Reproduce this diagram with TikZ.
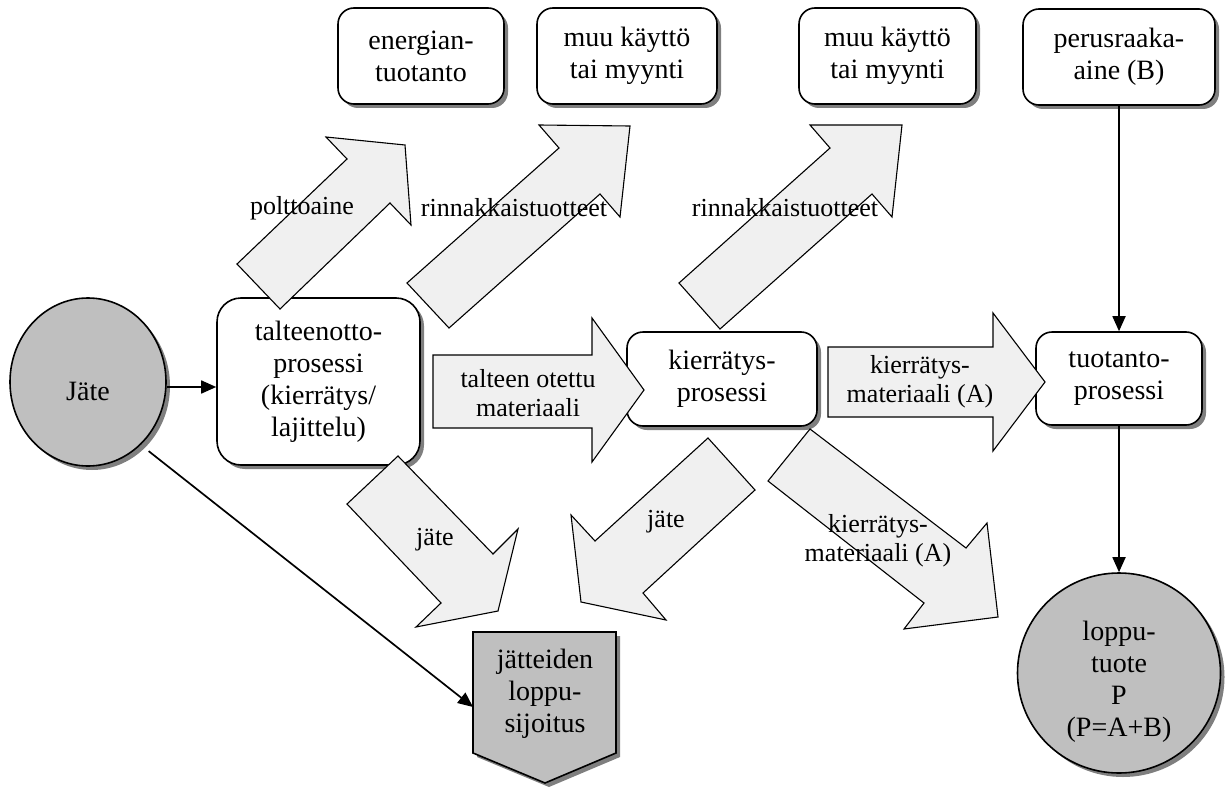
\documentclass[tikz,border=0pt]{standalone}
\usepackage{fontspec}
\setmainfont{Liberation Serif}
\usetikzlibrary{shapes.geometric,shadows,arrows.meta}
\begin{document}
\begin{tikzpicture}[x=1pt,y=-1pt,
  boxfont/.style={font=\fontsize{28}{32}\selectfont},
  lblfont/.style={font=\fontsize{26}{29}\selectfont},
  shad/.style={drop shadow={shadow xshift=4pt,shadow yshift=-4pt,fill=black,opacity=.5}},
  box/.style={draw,line width=1.6pt,rounded corners=16pt,fill=white,align=center,inner sep=0pt,boxfont,shad},
  disc/.style={ellipse,draw,line width=1.6pt,fill=black!25,align=center,inner sep=0pt,boxfont,shad},
  bigarrow/.style={draw,line width=1.1pt,fill=black!6,line join=miter},
  lbl/.style={align=center,inner sep=0pt,lblfont},
  conn/.style={line width=1.7pt,-{Triangle[length=15pt,width=13pt]}}
]
\useasboundingbox[fill=white] (0,0) rectangle (1230,789);

% boxes
\node[box,minimum width=166pt,minimum height=96pt] (energ) at (421,56) {energian-\\tuotanto};
\node[box,minimum width=180pt,minimum height=96pt] (muu1) at (627,56) {muu käyttö\\tai myynti};
\node[box,minimum width=177pt,minimum height=96pt] (muu2) at (887.5,56) {muu käyttö\\tai myynti};
\node[box,minimum width=192pt,minimum height=96pt] (perus) at (1119,57) {perusraaka-\\aine (B)};
\node[box,rounded corners=24pt,minimum width=203pt,minimum height=167pt] (talt) at (318.5,381.5) {talteenotto-\\prosessi\\(kierrätys/\\lajittelu)};
\node[box,minimum width=190pt,minimum height=94pt] (kier) at (722,379) {kierrätys-\\prosessi};
\node[box,minimum width=166pt,minimum height=93pt] (tuot) at (1119,378.5) {tuotanto-\\prosessi};
\node[disc,minimum width=156pt,minimum height=168pt] (jate) at (88,382) {};
\node[lbl,boxfont] (jatetext) at ([yshift=-9pt]jate.center) {Jäte};
\node[disc,minimum width=203pt,minimum height=200pt] (lop) at (1119,673) {};
\node[lbl,boxfont] (loptext) at ([yshift=-9pt]lop.center) {loppu-\\tuote\\P\\(P=A+B)};

% final disposal (pentagon)
\path[draw,line width=1.6pt,fill=black!25,shad] (473,632) -- (616,632) -- (616,753) -- (545,783) -- (473,753) -- cycle;
\node[lbl,boxfont] (sink) at (545,694) {jätteiden\\loppu-\\sijoitus};
\coordinate (sinkin) at (473,707);

% block arrows
\path[bigarrow] (237,264) -- (347,159) -- (326,137) -- (405,145) -- (411,225) -- (390,203) -- (280,309) -- cycle;
\path[bigarrow] (407,283) -- (559,148) -- (539,125) -- (630,126) -- (620,217) -- (600,194) -- (449,328) -- cycle;
\path[bigarrow] (679,283) -- (830,148) -- (810,125) -- (902,125) -- (892,217) -- (872,194) -- (720,329) -- cycle;
\path[bigarrow] (433,355) -- (592,355) -- (592,318) -- (644,390) -- (592,462) -- (592,428) -- (433,428) -- cycle;
\path[bigarrow] (828,347) -- (993,347) -- (993,313) -- (1045,382) -- (993,451) -- (993,417) -- (828,417) -- cycle;
\path[bigarrow] (398,456) -- (493,554) -- (518,529) -- (498,611) -- (416,627) -- (441,603) -- (347,504) -- cycle;
\path[bigarrow] (708,438) -- (755,490) -- (643,593) -- (666,620) -- (581,602) -- (571,515) -- (595,541) -- cycle;
\path[bigarrow] (810,429) -- (966,548) -- (987,523) -- (998,617) -- (904,629) -- (924,603) -- (768,481) -- cycle;

% arrow labels
\node[lbl] (l1) at (302,208) {polttoaine};
\node[lbl] (l2) at (514,208) {rinnakkaistuotteet};
\node[lbl] (l3) at (785,208) {rinnakkaistuotteet};
\node[lbl] (l4) at (528,393) {talteen otettu\\materiaali};
\node[lbl] (l5) at (920,382) {kierrätys-\\materiaali (A)};
\node[lbl] (l6) at (435,540) {jäte};
\node[lbl] (l7) at (666,522) {jäte};
\node[lbl] (l8) at (878,541) {kierrätys-\\materiaali (A)};

% connectors
\draw[conn] ([yshift=-5pt]jate.east) -- ([yshift=-5pt]jate.east -| talt.west);
\draw[conn,shorten <=10pt] (jate.-50) -- (sinkin);
\draw[conn] (perus) -- (tuot);
\draw[conn] (tuot) -- (lop);
\end{tikzpicture}
\end{document}
